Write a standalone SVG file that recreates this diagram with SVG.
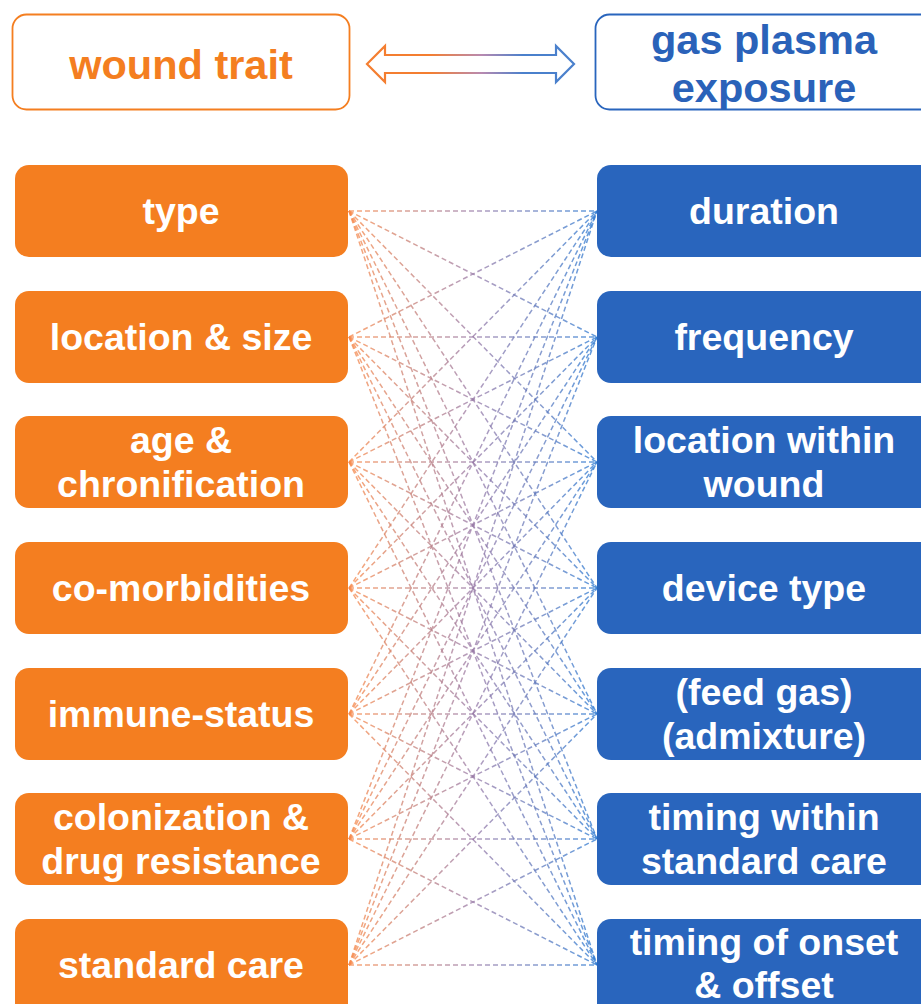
<svg xmlns="http://www.w3.org/2000/svg" width="921" height="1004" viewBox="0 0 921 1004">
<style>
.lt{fill:#F47E20}
.rt{fill:#2965BD}
.bt{font-family:"Liberation Sans",Arial,sans-serif;font-weight:bold;font-size:37.5px;fill:#fff;text-anchor:middle}
.ht{font-family:"Liberation Sans",Arial,sans-serif;font-weight:bold;font-size:41.5px;text-anchor:middle}
.cn line{stroke:url(#lg);stroke-width:1.5;stroke-dasharray:5 3;opacity:0.75;fill:none}
</style>
<defs>
<linearGradient id="lg" gradientUnits="userSpaceOnUse" x1="349" y1="0" x2="597" y2="0">
<stop offset="0" stop-color="#F8894A"/>
<stop offset="0.5" stop-color="#9A7CA8"/>
<stop offset="1" stop-color="#2F7BD2"/>
</linearGradient>
<linearGradient id="ag" gradientUnits="userSpaceOnUse" x1="367" y1="0" x2="575" y2="0">
<stop offset="0.3" stop-color="#F47E30"/>
<stop offset="0.55" stop-color="#B88AB0"/>
<stop offset="0.75" stop-color="#4A80CC"/>
</linearGradient>
</defs>
<rect width="921" height="1004" fill="#fff"/>
<g id="hdr-left">
<rect x="12.5" y="14.5" width="337" height="95" rx="14" fill="#fff" stroke="#F47E20" stroke-width="1.8"/>
<text class="ht" x="181" y="79" fill="#F47E20">wound trait</text>
</g>
<g id="hdr-arrow">
<path d="M367,64 L385,46 L385,55 L556,55 L556,46 L574,64 L556,82 L556,73 L385,73 L385,82 Z" fill="#fff" stroke="url(#ag)" stroke-width="2.2" stroke-linejoin="miter"/>
</g>
<g id="hdr-right">
<rect x="595.5" y="14.5" width="340" height="95" rx="14" fill="#fff" stroke="#2965BD" stroke-width="1.8"/>
<text class="ht" x="764" y="54" fill="#2A62B9">gas plasma</text>
<text class="ht" x="764" y="102" fill="#2A62B9">exposure</text>
</g>
<g class="cn" id="connectors">
<line x1="349" y1="211" x2="597" y2="211"/><line x1="349" y1="211" x2="597" y2="337"/><line x1="349" y1="211" x2="597" y2="462"/><line x1="349" y1="211" x2="597" y2="588"/><line x1="349" y1="211" x2="597" y2="714"/><line x1="349" y1="211" x2="597" y2="839"/><line x1="349" y1="211" x2="597" y2="965"/>
<line x1="349" y1="337" x2="597" y2="211"/><line x1="349" y1="337" x2="597" y2="337"/><line x1="349" y1="337" x2="597" y2="462"/><line x1="349" y1="337" x2="597" y2="588"/><line x1="349" y1="337" x2="597" y2="714"/><line x1="349" y1="337" x2="597" y2="839"/><line x1="349" y1="337" x2="597" y2="965"/>
<line x1="349" y1="462" x2="597" y2="211"/><line x1="349" y1="462" x2="597" y2="337"/><line x1="349" y1="462" x2="597" y2="462"/><line x1="349" y1="462" x2="597" y2="588"/><line x1="349" y1="462" x2="597" y2="714"/><line x1="349" y1="462" x2="597" y2="839"/><line x1="349" y1="462" x2="597" y2="965"/>
<line x1="349" y1="588" x2="597" y2="211"/><line x1="349" y1="588" x2="597" y2="337"/><line x1="349" y1="588" x2="597" y2="462"/><line x1="349" y1="588" x2="597" y2="588"/><line x1="349" y1="588" x2="597" y2="714"/><line x1="349" y1="588" x2="597" y2="839"/><line x1="349" y1="588" x2="597" y2="965"/>
<line x1="349" y1="714" x2="597" y2="211"/><line x1="349" y1="714" x2="597" y2="337"/><line x1="349" y1="714" x2="597" y2="462"/><line x1="349" y1="714" x2="597" y2="588"/><line x1="349" y1="714" x2="597" y2="714"/><line x1="349" y1="714" x2="597" y2="839"/><line x1="349" y1="714" x2="597" y2="965"/>
<line x1="349" y1="839" x2="597" y2="211"/><line x1="349" y1="839" x2="597" y2="337"/><line x1="349" y1="839" x2="597" y2="462"/><line x1="349" y1="839" x2="597" y2="588"/><line x1="349" y1="839" x2="597" y2="714"/><line x1="349" y1="839" x2="597" y2="839"/><line x1="349" y1="839" x2="597" y2="965"/>
<line x1="349" y1="965" x2="597" y2="211"/><line x1="349" y1="965" x2="597" y2="337"/><line x1="349" y1="965" x2="597" y2="462"/><line x1="349" y1="965" x2="597" y2="588"/><line x1="349" y1="965" x2="597" y2="714"/><line x1="349" y1="965" x2="597" y2="839"/><line x1="349" y1="965" x2="597" y2="965"/>
</g>
<g id="l-type"><rect class="lt" x="15" y="165" width="333" height="92" rx="14"/><text class="bt" x="181" y="224">type</text></g>
<g id="l-location"><rect class="lt" x="15" y="291" width="333" height="92" rx="14"/><text class="bt" x="181" y="350">location &amp; size</text></g>
<g id="l-age"><rect class="lt" x="15" y="416" width="333" height="92" rx="14"/><text class="bt" x="181" y="453">age &amp;</text><text class="bt" x="181" y="497">chronification</text></g>
<g id="l-comorb"><rect class="lt" x="15" y="542" width="333" height="92" rx="14"/><text class="bt" x="181" y="601">co-morbidities</text></g>
<g id="l-immune"><rect class="lt" x="15" y="668" width="333" height="92" rx="14"/><text class="bt" x="181" y="727">immune-status</text></g>
<g id="l-colon"><rect class="lt" x="15" y="793" width="333" height="92" rx="14"/><text class="bt" x="181" y="830">colonization &amp;</text><text class="bt" x="181" y="874">drug resistance</text></g>
<g id="l-care"><rect class="lt" x="15" y="919" width="333" height="100" rx="14"/><text class="bt" x="181" y="978">standard care</text></g>
<g id="r-duration"><rect class="rt" x="597" y="165" width="345" height="92" rx="14"/><text class="bt" x="764" y="224">duration</text></g>
<g id="r-frequency"><rect class="rt" x="597" y="291" width="345" height="92" rx="14"/><text class="bt" x="764" y="350">frequency</text></g>
<g id="r-location"><rect class="rt" x="597" y="416" width="345" height="92" rx="14"/><text class="bt" x="764" y="453">location within</text><text class="bt" x="764" y="497">wound</text></g>
<g id="r-device"><rect class="rt" x="597" y="542" width="345" height="92" rx="14"/><text class="bt" x="764" y="601">device type</text></g>
<g id="r-feed"><rect class="rt" x="597" y="668" width="345" height="92" rx="14"/><text class="bt" x="764" y="705">(feed gas)</text><text class="bt" x="764" y="749">(admixture)</text></g>
<g id="r-timing"><rect class="rt" x="597" y="793" width="345" height="92" rx="14"/><text class="bt" x="764" y="830">timing within</text><text class="bt" x="764" y="874">standard care</text></g>
<g id="r-onset"><rect class="rt" x="597" y="919" width="345" height="100" rx="14"/><text class="bt" x="764" y="955">timing of onset</text><text class="bt" x="764" y="998">&amp; offset</text></g>
</svg>
